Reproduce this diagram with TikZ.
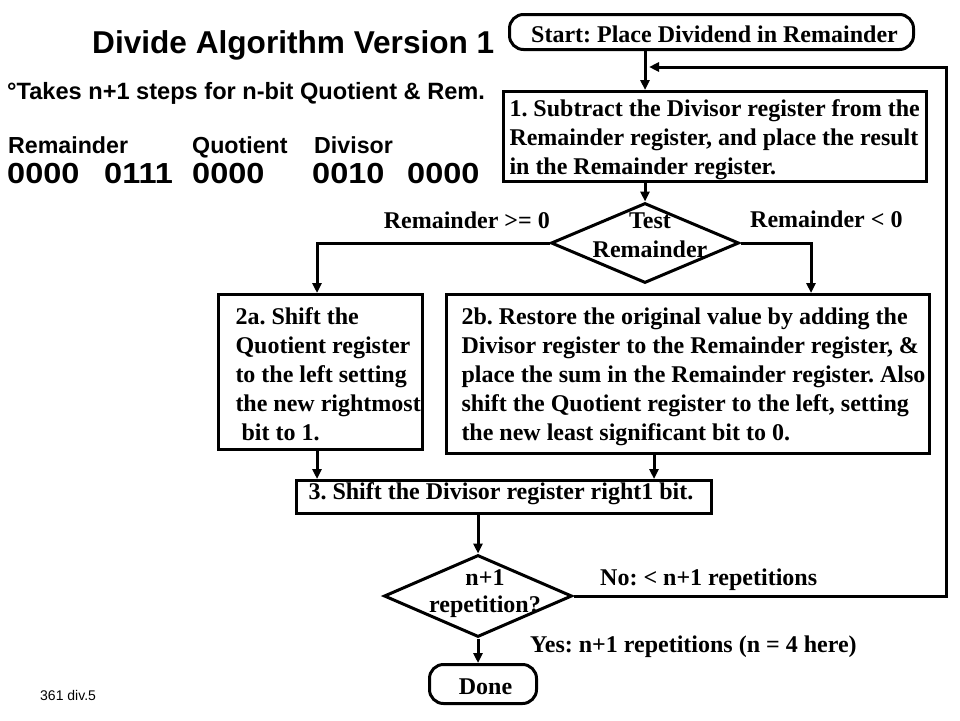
\documentclass[tikz,border=0pt]{standalone}
\usepackage{fontspec}
\setmainfont{Liberation Serif}
\newfontfamily\arialf{Liberation Sans}
\newfontfamily\digitf[FakeStretch=1.12]{Liberation Sans}
\usetikzlibrary{shapes.geometric,arrows.meta,calc}
\frenchspacing
\newcommand\mylines[1]{\vtop{\halign{##\hfil\cr#1\crcr}}}
\newcommand\clines[2][29pt]{\vtop{\baselineskip=#1\halign{\hfil##\hfil\cr#2\crcr}}}
\newcommand\boxtxt[3]{\hbox to #1{\hskip#2\mylines{#3}\hss}}
\newcommand\ctrtxt[3]{\hbox to #1{\hss\hskip#2#3\hss}}
\tikzset{
  flow/.style={font=\frenchspacing\fontsize{24}{29}\selectfont\bfseries},
  procbox/.style={flow, draw, line width=3pt, inner sep=0pt, anchor=north west},
  termbox/.style={flow, draw, line width=3pt, rounded corners=14pt, inner sep=0pt, anchor=north west},
  decision/.style={flow, draw, diamond, line width=3pt, inner sep=0pt, text height=0pt, text depth=0pt},
  arr/.style={line width=3pt, -{Triangle[length=10pt,width=9pt]}},
  lbl/.style={flow, inner sep=0pt, anchor=base west},
  sanslbl/.style={font=\arialf\bfseries\fontsize{23.2}{28}\selectfont, inner sep=0pt, anchor=base west},
  digitlbl/.style={font=\digitf\bfseries\fontsize{29}{32}\selectfont, inner sep=0pt, anchor=base west},
}
\begin{document}
\begin{tikzpicture}[x=1pt,y=-1pt]
\useasboundingbox[fill=white] (0,0) rectangle (960,720);

% left column texts
\node[inner sep=0pt, anchor=base west, font=\arialf\bfseries\fontsize{31.6}{36}\selectfont] (title) at (92,53) {Divide Algorithm Version 1};
\node[sanslbl, font=\arialf\bfseries\fontsize{23.6}{28}\selectfont] (takes) at (7,99) {°Takes n+1 steps for n-bit Quotient \& Rem.};
\node[sanslbl] (hrem) at (8,153) {Remainder};
\node[sanslbl] (hquo) at (192,153) {Quotient};
\node[sanslbl] (hdiv) at (314,153) {Divisor};
\node[digitlbl] (r1) at (7,183) {0000};
\node[digitlbl] (r2) at (104,183) {0111};
\node[digitlbl] (q1) at (192,183) {0000};
\node[digitlbl] (d1) at (312,183) {0010};
\node[digitlbl] (d2) at (407,183) {0000};
\node[inner sep=0pt, anchor=base west, font=\arialf\fontsize{14}{16}\selectfont] (foot) at (40,700) {361 div.5};

% flowchart
\node[termbox, text height=28pt, text depth=7pt] (start) at (508,13)
  {\ctrtxt{404pt}{6pt}{Start: Place Dividend in Remainder}};
\node[procbox, text height=25pt, text depth=65pt] (b1) at (502,90)
  {\boxtxt{423pt}{6pt}{1. Subtract the Divisor register from the\cr
   Remainder register, and place the result\cr
   in the Remainder register.}};
\node[decision, minimum width=188pt, minimum height=80pt] (t1) at (645,243)
  {\makebox[0pt]{\hskip10pt\raisebox{15pt}[0pt][0pt]{\clines{Test\cr Remainder}}}};
\node[procbox, text height=30pt, text depth=125pt] (b2a) at (217,293)
  {\boxtxt{204pt}{17pt}{2a. Shift the\cr
   Quotient register\cr
   to the left setting\cr
   the new rightmost\cr
   \ bit to 1.}};
\node[procbox, text height=30pt, text depth=129pt] (b2b) at (445,293)
  {\boxtxt{483pt}{15pt}{2b. Restore the original value by adding the\cr
   Divisor register to the Remainder register, \&\cr
   place the sum in the Remainder register. Also\cr
   shift the Quotient register to the left, setting\cr
   the new least significant bit to 0.}};
\node[procbox, text height=19pt, text depth=14pt] (b3) at (295,479)
  {\boxtxt{415pt}{12pt}{3. Shift the Divisor register right1 bit.}};
\node[decision, minimum width=188pt, minimum height=82pt] (t2) at (478,596)
  {\makebox[0pt]{\hskip14pt\raisebox{11pt}[0pt][0pt]{\clines[27pt]{n+1\cr repetition?}}}};
\node[termbox, text height=30pt, text depth=9pt] (done) at (428,663)
  {\ctrtxt{107pt}{5pt}{Done}};

% labels
\node[lbl, anchor=base east] (lge) at (550,228) {Remainder >= 0};
\node[lbl] (llt) at (750,227) {Remainder < 0};
\node[lbl] (lno) at (600,585) {No: < n+1 repetitions};
\node[lbl] (lyes) at (530,652) {Yes: n+1 repetitions (n = 4 here)};

% connectors
\coordinate (xm) at (645,0);
\coordinate (x2a) at (317,0);
\coordinate (x2b) at (811,0);
\coordinate (x2c) at (654,0);
\coordinate (loopr) at (946,67);
\coordinate (loopend) at (649,67);
\draw[arr] (start.south -| xm) -- (b1.north -| xm);
\draw[arr] (b1.south -| xm) -- (t1.north);
\draw[arr] (t1.west) -| (b2a.north -| x2a);
\draw[arr] (t1.east) -| (b2b.north -| x2b);
\draw[arr] (b2a.south -| x2a) -- (b3.north -| x2a);
\draw[arr] (b2b.south -| x2c) -- (b3.north -| x2c);
\draw[arr] (b3.south -| t2.north) -- (t2.north);
\draw[arr] (t2.south) -- (t2.south |- done.north);
\draw[arr] (t2.east) -| (loopr) -- (loopend);
\end{tikzpicture}
\end{document}
